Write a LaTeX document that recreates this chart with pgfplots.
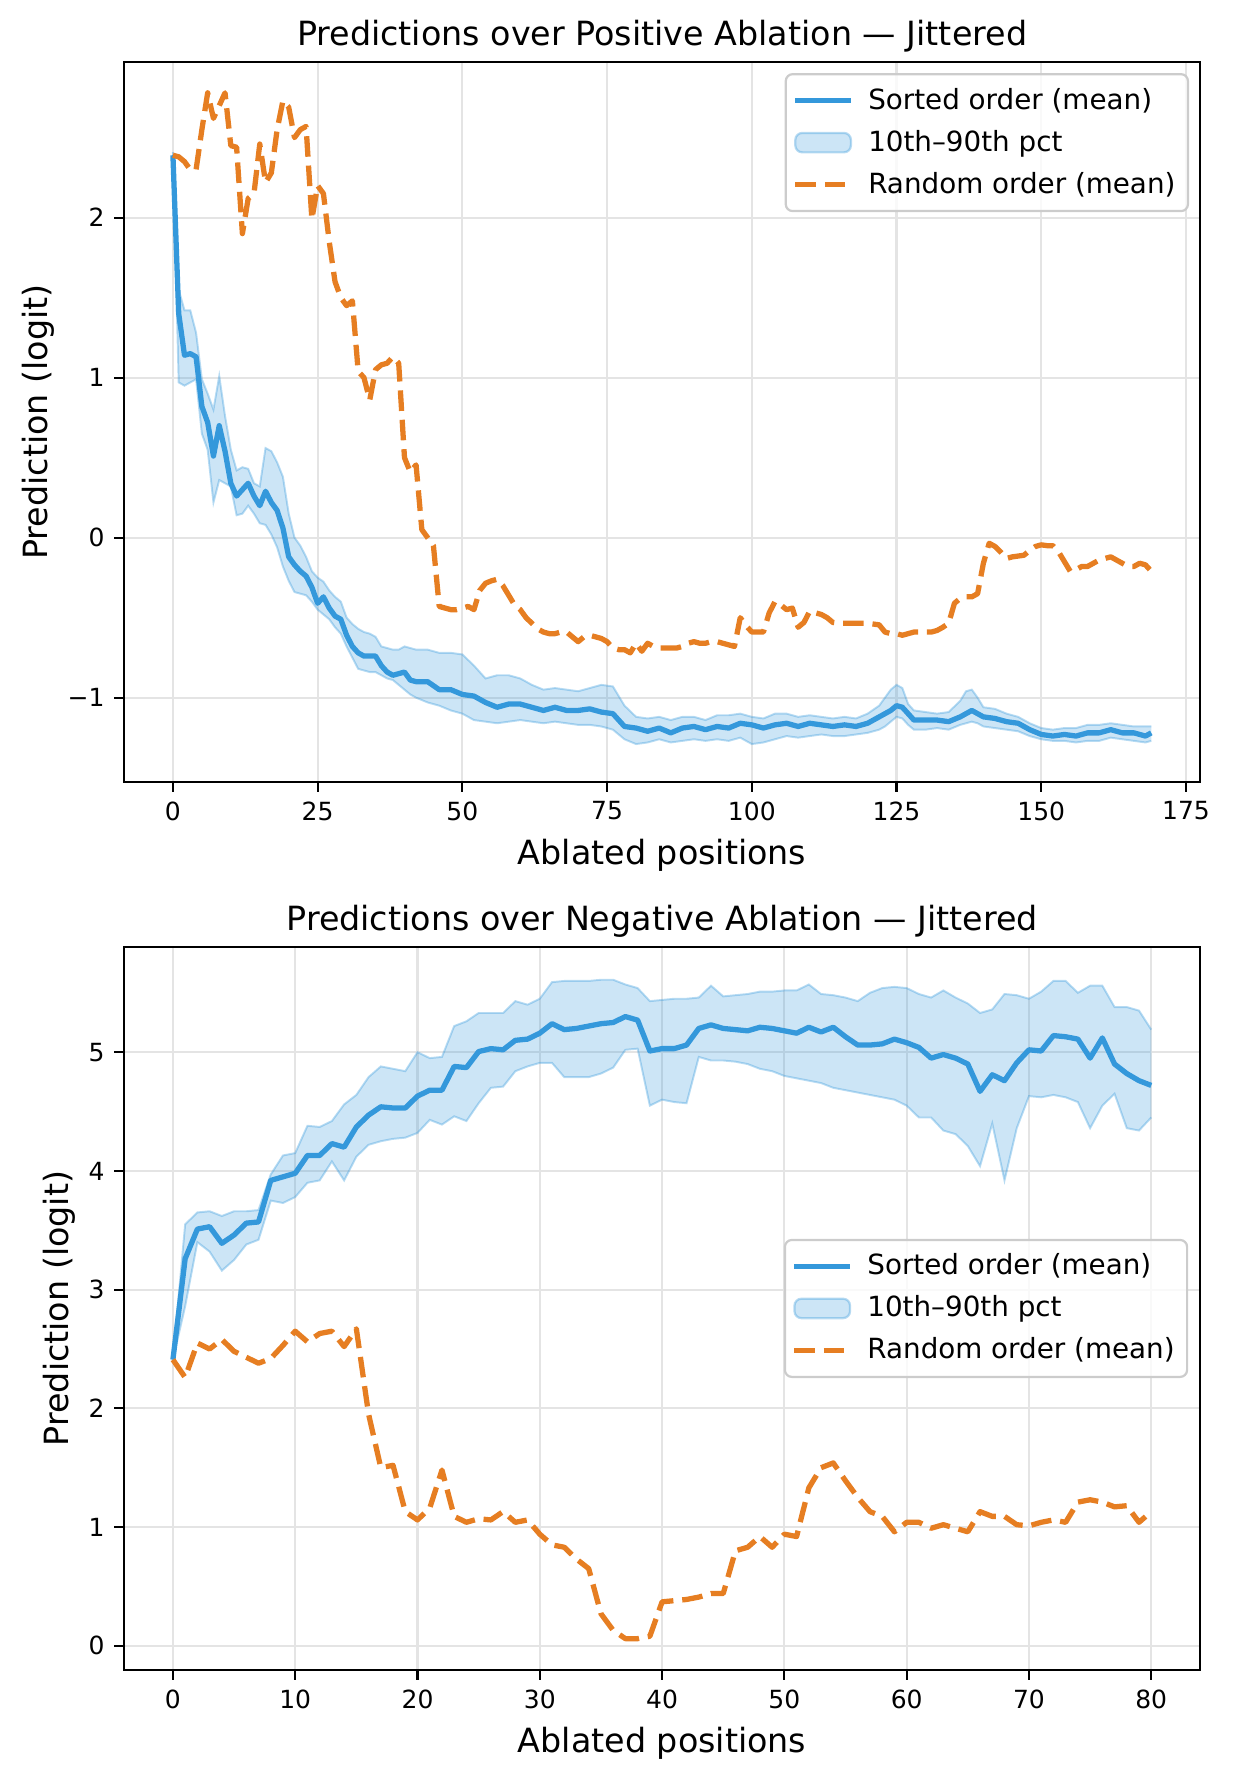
\documentclass[border=0pt]{standalone}
\usepackage{fontspec}
\setmainfont{DejaVu Sans}
\usepackage{pgfplots}
\pgfplotsset{compat=1.18}
\usepgfplotslibrary{fillbetween}
\usepackage{pgfplotstable}
\definecolor{cblue}{RGB}{52,152,219}
\definecolor{corange}{RGB}{230,126,34}
\definecolor{gridc}{RGB}{228,228,228}

\pgfplotstableread{
x m lo hi
0 2.39 2.39 2.41
1 1.40 0.97 1.55
2 1.14 0.95 1.42
3 1.15 0.97 1.42
4 1.13 0.99 1.28
5 0.82 0.65 0.99
6 0.72 0.55 0.90
7 0.51 0.22 0.80
8 0.70 0.36 1.01
9 0.54 0.34 0.76
10 0.34 0.32 0.55
11 0.26 0.14 0.42
12 0.30 0.15 0.44
13 0.34 0.20 0.43
14 0.26 0.15 0.34
15 0.20 0.09 0.32
16 0.29 0.08 0.56
17 0.22 0.02 0.54
18 0.17 -0.06 0.47
19 0.06 -0.18 0.38
20 -0.12 -0.27 0.15
21 -0.17 -0.34 0.00
22 -0.21 -0.35 -0.05
23 -0.24 -0.36 -0.12
24 -0.31 -0.40 -0.21
25 -0.41 -0.45 -0.25
26 -0.37 -0.48 -0.275
27 -0.44 -0.51 -0.33
28 -0.49 -0.56 -0.37
29 -0.51 -0.60 -0.40
30 -0.61 -0.68 -0.50
31 -0.68 -0.75 -0.54
32 -0.72 -0.82 -0.57
33 -0.74 -0.83 -0.59
34 -0.74 -0.84 -0.60
35 -0.74 -0.84 -0.62
36 -0.80 -0.86 -0.68
37 -0.84 -0.88 -0.69
38 -0.86 -0.89 -0.70
39 -0.85 -0.92 -0.70
40 -0.84 -0.95 -0.68
41 -0.89 -0.98 -0.69
42 -0.90 -1.00 -0.70
44 -0.90 -1.03 -0.70
46 -0.95 -1.05 -0.72
48 -0.95 -1.08 -0.72
50 -0.98 -1.10 -0.73
52 -0.99 -1.14 -0.80
54 -1.03 -1.15 -0.88
56 -1.06 -1.16 -0.86
58 -1.04 -1.15 -0.86
60 -1.04 -1.14 -0.88
62 -1.06 -1.15 -0.92
64 -1.08 -1.16 -0.95
66 -1.06 -1.15 -0.94
68 -1.08 -1.16 -0.95
70 -1.08 -1.17 -0.96
72 -1.07 -1.17 -0.94
74 -1.09 -1.18 -0.92
76 -1.10 -1.20 -0.93
78 -1.18 -1.26 -1.05
80 -1.19 -1.29 -1.12
82 -1.21 -1.28 -1.13
84 -1.19 -1.26 -1.12
86 -1.22 -1.28 -1.14
88 -1.19 -1.27 -1.12
90 -1.18 -1.26 -1.12
92 -1.20 -1.27 -1.14
94 -1.18 -1.26 -1.11
96 -1.19 -1.27 -1.11
98 -1.16 -1.25 -1.10
100 -1.17 -1.29 -1.12
102 -1.19 -1.28 -1.13
104 -1.17 -1.26 -1.10
106 -1.16 -1.24 -1.10
108 -1.18 -1.25 -1.12
110 -1.16 -1.24 -1.11
112 -1.17 -1.23 -1.12
114 -1.18 -1.24 -1.13
116 -1.17 -1.24 -1.12
118 -1.18 -1.23 -1.13
120 -1.16 -1.22 -1.10
122 -1.12 -1.20 -1.05
123 -1.10 -1.18 -1.00
124 -1.08 -1.15 -0.95
125 -1.05 -1.12 -0.92
126 -1.06 -1.13 -0.94
127 -1.10 -1.17 -1.04
128 -1.14 -1.20 -1.08
130 -1.14 -1.20 -1.09
132 -1.14 -1.19 -1.10
134 -1.15 -1.20 -1.09
136 -1.12 -1.17 -1.02
137 -1.10 -1.16 -0.96
138 -1.08 -1.15 -0.95
139 -1.10 -1.16 -1.00
140 -1.12 -1.18 -1.06
142 -1.13 -1.19 -1.07
144 -1.15 -1.20 -1.10
146 -1.16 -1.21 -1.12
148 -1.20 -1.24 -1.16
150 -1.23 -1.26 -1.19
152 -1.24 -1.27 -1.20
154 -1.23 -1.27 -1.19
156 -1.24 -1.28 -1.19
158 -1.22 -1.27 -1.17
160 -1.22 -1.27 -1.17
162 -1.20 -1.25 -1.16
164 -1.22 -1.26 -1.17
166 -1.22 -1.27 -1.18
168 -1.24 -1.28 -1.18
169 -1.22 -1.27 -1.18
}\topsorted

\pgfplotstableread{
x y
0 2.39
1 2.38
2 2.35
3 2.30
4 2.30
5 2.55
6 2.78
7 2.62
8 2.70
9 2.78
10 2.45
11 2.44
12 1.90
13 2.12
14 2.15
15 2.46
16 2.22
17 2.28
18 2.55
19 2.73
20 2.69
21 2.50
22 2.55
23 2.57
24 1.99
25 2.20
26 2.15
27 1.85
28 1.60
29 1.50
30 1.45
31 1.48
32 1.04
33 1.00
34 0.86
35 1.05
36 1.08
37 1.09
38 1.13
39 1.09
40 0.50
41 0.41
42 0.455
43 0.05
44 0.00
45 -0.05
46 -0.43
47 -0.44
48 -0.45
49 -0.45
50 -0.44
51 -0.43
52 -0.45
53 -0.33
54 -0.285
55 -0.27
56 -0.26
57 -0.30
58 -0.36
59 -0.42
60 -0.45
61 -0.50
62 -0.535
63 -0.57
64 -0.59
65 -0.60
66 -0.60
67 -0.59
68 -0.59
69 -0.62
70 -0.65
71 -0.62
72 -0.61
73 -0.62
74 -0.63
75 -0.65
76 -0.69
77 -0.70
78 -0.70
79 -0.72
80 -0.66
81 -0.71
82 -0.66
83 -0.68
84 -0.69
85 -0.69
86 -0.69
87 -0.69
88 -0.68
89 -0.66
90 -0.65
91 -0.66
92 -0.66
93 -0.65
94 -0.65
95 -0.66
96 -0.67
97 -0.68
98 -0.50
99 -0.55
100 -0.59
101 -0.59
102 -0.59
103 -0.47
104 -0.40
105 -0.42
106 -0.45
107 -0.44
108 -0.56
109 -0.53
110 -0.46
111 -0.47
112 -0.48
113 -0.50
114 -0.53
115 -0.535
116 -0.535
117 -0.535
118 -0.535
119 -0.535
120 -0.535
121 -0.54
122 -0.545
123 -0.59
124 -0.60
125 -0.60
126 -0.61
127 -0.60
128 -0.59
129 -0.59
130 -0.59
131 -0.59
132 -0.58
133 -0.56
134 -0.535
135 -0.41
136 -0.38
137 -0.37
138 -0.37
139 -0.35
140 -0.16
141 -0.035
142 -0.055
143 -0.09
144 -0.13
145 -0.12
146 -0.115
147 -0.11
148 -0.08
149 -0.055
150 -0.045
151 -0.05
152 -0.05
153 -0.09
154 -0.15
155 -0.21
156 -0.20
157 -0.18
158 -0.18
159 -0.16
160 -0.14
161 -0.13
162 -0.12
163 -0.14
164 -0.16
165 -0.18
166 -0.18
167 -0.16
168 -0.17
169 -0.21
}\toprandom

\pgfplotstableread{
x m lo hi
0 2.41 2.41 2.41
1 3.26 2.86 3.55
2 3.51 3.40 3.65
3 3.53 3.32 3.66
4 3.39 3.16 3.62
5 3.46 3.25 3.66
6 3.56 3.38 3.66
7 3.57 3.42 3.67
8 3.92 3.75 3.97
9 3.95 3.73 4.13
10 3.98 3.78 4.15
11 4.13 3.90 4.38
12 4.13 3.92 4.37
13 4.23 4.08 4.42
14 4.20 3.92 4.56
15 4.37 4.12 4.64
16 4.47 4.22 4.79
17 4.54 4.25 4.88
18 4.53 4.27 4.86
19 4.53 4.28 4.84
20 4.63 4.32 5.00
21 4.68 4.43 4.95
22 4.68 4.39 4.96
23 4.88 4.46 5.22
24 4.87 4.42 5.26
25 5.005 4.57 5.33
26 5.03 4.70 5.33
27 5.02 4.71 5.33
28 5.10 4.84 5.43
29 5.11 4.88 5.40
30 5.16 4.91 5.45
31 5.24 4.91 5.59
32 5.19 4.79 5.60
33 5.20 4.79 5.60
34 5.22 4.79 5.60
35 5.24 4.82 5.61
36 5.25 4.87 5.61
37 5.30 5.02 5.57
38 5.27 5.03 5.54
39 5.01 4.55 5.43
40 5.03 4.60 5.44
41 5.03 4.58 5.45
42 5.06 4.57 5.45
43 5.20 4.96 5.46
44 5.23 4.93 5.56
45 5.20 4.93 5.47
46 5.19 4.92 5.48
47 5.18 4.90 5.49
48 5.21 4.86 5.51
49 5.20 4.84 5.51
50 5.18 4.80 5.52
51 5.16 4.78 5.52
52 5.21 4.76 5.57
53 5.17 4.74 5.49
54 5.21 4.70 5.48
55 5.13 4.68 5.46
56 5.06 4.66 5.43
57 5.06 4.64 5.50
58 5.07 4.62 5.54
59 5.11 4.60 5.55
60 5.08 4.55 5.54
61 5.04 4.45 5.49
62 4.95 4.45 5.46
63 4.98 4.34 5.52
64 4.95 4.31 5.46
65 4.90 4.21 5.41
66 4.67 4.04 5.33
67 4.81 4.40 5.36
68 4.76 3.92 5.49
69 4.91 4.36 5.48
70 5.02 4.63 5.45
71 5.01 4.62 5.51
72 5.14 4.64 5.60
73 5.13 4.62 5.60
74 5.11 4.58 5.50
75 4.95 4.36 5.56
76 5.12 4.55 5.56
77 4.90 4.65 5.38
78 4.82 4.36 5.38
79 4.76 4.34 5.35
80 4.72 4.45 5.19
}\botsorted

\pgfplotstableread{
x y
0 2.41
1 2.26
2 2.55
3 2.50
4 2.58
5 2.48
6 2.43
7 2.38
8 2.42
9 2.53
10 2.65
11 2.56
12 2.63
13 2.65
14 2.52
15 2.67
16 1.95
17 1.50
18 1.52
19 1.13
20 1.06
21 1.16
22 1.48
23 1.09
24 1.04
25 1.07
26 1.06
27 1.13
28 1.04
29 1.06
30 0.94
31 0.85
32 0.83
33 0.73
34 0.65
35 0.27
36 0.13
37 0.06
38 0.06
39 0.08
40 0.37
41 0.38
42 0.39
43 0.41
44 0.44
45 0.44
46 0.80
47 0.83
48 0.92
49 0.83
50 0.94
51 0.92
52 1.33
53 1.50
54 1.54
55 1.39
56 1.25
57 1.13
58 1.09
59 0.96
60 1.04
61 1.04
62 0.99
63 1.02
64 0.99
65 0.96
66 1.13
67 1.09
68 1.09
69 1.02
70 1.01
71 1.04
72 1.06
73 1.04
74 1.21
75 1.23
76 1.21
77 1.17
78 1.18
79 1.04
80 1.13
}\botrandom

\pgfplotsset{
  mystyle/.style={
    scale only axis,
    width=387.4pt,
    axis line style={line width=0.8pt},
    tick align=outside,
    major tick length=3.5pt,
    every tick/.style={black, line width=0.8pt},
    xtick pos=lower, ytick pos=left,
    grid=major,
    major grid style={gridc, line width=0.8pt},
    tick label style={font=\fontsize{9}{11}\selectfont},
    label style={font=\fontsize{12}{14}\selectfont},
    ylabel shift=-2pt,
    title style={font=\fontsize{12}{14}\selectfont, at={(0.5,1)}, anchor=base},
    xlabel={Ablated positions},
    ylabel={Prediction (logit)},
    legend cell align=left,
    legend style={font=\fontsize{10}{12}\selectfont, draw=black!20, line width=0.8pt,
      rounded corners=2.5pt, fill=white, fill opacity=0.8, draw opacity=1, text opacity=1,
      inner xsep=2.5pt, inner ysep=3pt, row sep=2pt, column sep=3.3pt},
  },
  lineimg/.style={legend image code/.code={\draw[##1] (0pt,0pt) -- (20pt,0pt);}},
  areaimg/.style={legend image code/.code={\draw[##1] (0pt,-3.5pt) rectangle (20pt,3.5pt);}},
  meanline/.style={cblue, line width=1.9pt, line join=round},
  randline/.style={corange, line width=1.9pt, line join=round, dash pattern=on 7.4pt off 3.2pt},
  bandedge/.style={cblue, draw opacity=0.35, line width=0.7pt},
}

\begin{document}
\begin{tikzpicture}
\path (0,0) rectangle (443.5pt,640.4pt);
\begin{axis}[mystyle,
  at={(44.64pt,358.9pt)}, anchor=south west,
  height=259.2pt,
  xmin=-8.45, xmax=177.45, ymin=-1.527, ymax=2.973,
  xtick={0,25,50,75,100,125,150,175},
  xticklabels={0,25,50,75,100,125,150,175},
  ytick={-1,0,1,2},
  yticklabels={−1,0,1,2},
  title={Predictions over Positive Ablation — Jittered},
  legend style={at={(1,1)}, anchor=north east, xshift=-4pt, yshift=-4pt},
]
\addlegendimage{meanline, lineimg}
\addlegendentry{Sorted order (mean)}
\addlegendimage{areaimg, fill=cblue, fill opacity=0.25, draw=cblue, draw opacity=0.35, line width=0.8pt}
\addlegendentry{10th–90th pct}
\addlegendimage{randline, lineimg}
\addlegendentry{Random order (mean)}
\addplot[bandedge, name path=thi, forget plot] table[x=x, y=hi] {\topsorted};
\addplot[bandedge, name path=tlo, forget plot] table[x=x, y=lo] {\topsorted};
\addplot[fill=cblue, fill opacity=0.25, draw=none, forget plot] fill between[of=thi and tlo];
\addplot[meanline, forget plot] table[x=x, y=m] {\topsorted};
\addplot[randline, forget plot] table[x=x, y=y] {\toprandom};
\end{axis}

\begin{axis}[mystyle,
  at={(44.64pt,39.24pt)}, anchor=south west,
  height=260.3pt,
  xmin=-4, xmax=84, ymin=-0.204, ymax=5.887,
  xtick={0,10,20,30,40,50,60,70,80},
  xticklabels={0,10,20,30,40,50,60,70,80},
  ytick={0,1,2,3,4,5},
  yticklabels={0,1,2,3,4,5},
  title={Predictions over Negative Ablation — Jittered},
  legend style={at={(1,0.5)}, anchor=east, xshift=-4.3pt},
]
\addlegendimage{meanline, lineimg}
\addlegendentry{Sorted order (mean)}
\addlegendimage{areaimg, fill=cblue, fill opacity=0.25, draw=cblue, draw opacity=0.35, line width=0.8pt}
\addlegendentry{10th–90th pct}
\addlegendimage{randline, lineimg}
\addlegendentry{Random order (mean)}
\addplot[bandedge, name path=bhi, forget plot] table[x=x, y=hi] {\botsorted};
\addplot[bandedge, name path=blo, forget plot] table[x=x, y=lo] {\botsorted};
\addplot[fill=cblue, fill opacity=0.25, draw=none, forget plot] fill between[of=bhi and blo];
\addplot[meanline, forget plot] table[x=x, y=m] {\botsorted};
\addplot[randline, forget plot] table[x=x, y=y] {\botrandom};
\end{axis}
\end{tikzpicture}
\end{document}
